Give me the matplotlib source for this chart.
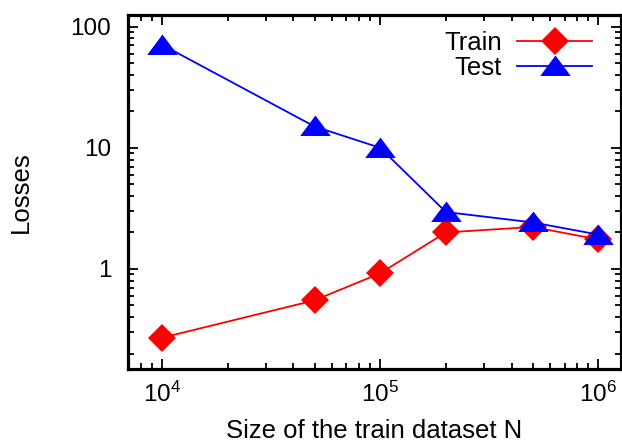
import matplotlib
matplotlib.use("Agg")
import matplotlib.pyplot as plt
from matplotlib.ticker import LogLocator, FixedLocator, FuncFormatter, NullFormatter

plt.rcParams['font.family'] = ['Liberation Sans', 'DejaVu Sans']
plt.rcParams['mathtext.fontset'] = 'custom'
plt.rcParams['mathtext.rm'] = 'Liberation Sans'
plt.rcParams['mathtext.it'] = 'Liberation Sans:italic'
plt.rcParams['mathtext.bf'] = 'Liberation Sans:bold'

N = [1e4, 5e4, 1e5, 2e5, 5e5, 1e6]
train = [0.27, 0.55, 0.92, 2.0, 2.22, 1.75]
test = [71, 15.0, 10.0, 2.95, 2.42, 1.92]

fig = plt.figure(figsize=(6.22, 4.45), dpi=100)
ax = fig.add_axes([128/622, 1-369/445, (621-128)/622, (369-15)/445])

tri = [(0, 0.72), (-1, -0.62), (1, -0.62)]
ax.plot(N, train, color='#ff0000', lw=1.3, marker='D', markersize=14,
        markeredgewidth=0, label='Train')
ax.plot(N, test, color='#0000ff', lw=1.3, marker=tri, markersize=22,
        markeredgewidth=0, label='Test')

ax.set_xscale('log')
ax.set_yscale('log')
ax.set_xlim(6980, 1.27e6)
ax.set_ylim(0.149, 125)

ax.yaxis.set_major_locator(FixedLocator([1, 10, 100]))
ax.yaxis.set_major_formatter(FuncFormatter(lambda v, p: '%g' % v))
ax.yaxis.set_minor_locator(LogLocator(base=10, subs=range(2, 10)))
ax.yaxis.set_minor_formatter(NullFormatter())
ax.xaxis.set_minor_locator(LogLocator(base=10, subs=range(2, 10)))
ax.xaxis.set_minor_formatter(NullFormatter())

for s in ax.spines.values():
    s.set_linewidth(2.3)
ax.tick_params(which='both', direction='in', top=True, right=True,
               width=1.3, labelsize=17.5)
ax.tick_params(which='major', length=7)
ax.tick_params(which='minor', length=4)
ax.tick_params(axis='y', which='major', pad=12)
ax.tick_params(axis='x', which='major', pad=9)

ax.set_xlabel('Size of the train dataset N', fontsize=18.5, labelpad=9)
ax.set_ylabel('Losses', fontsize=18.5, labelpad=27)

leg = ax.legend(loc='upper right', frameon=False, markerfirst=False,
                fontsize=18.5, handlelength=2.9, handletextpad=0.6,
                labelspacing=0.05, borderaxespad=0.0,
                bbox_to_anchor=(0.962, 0.985))
for t in leg.get_texts():
    t.set_ha('right')

fig.savefig('out.png', dpi=100)
